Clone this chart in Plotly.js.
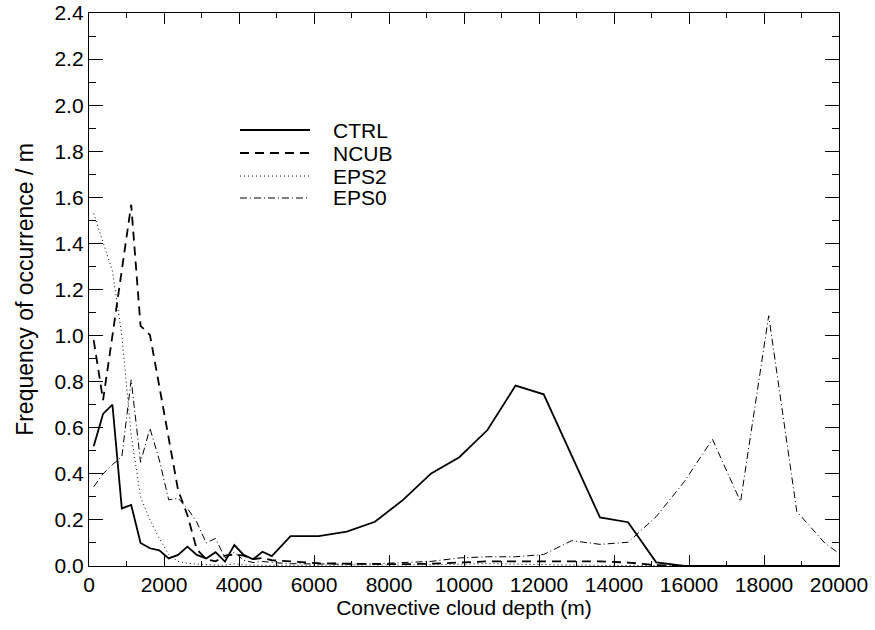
<!DOCTYPE html>
<html>
<head>
<meta charset="utf-8">
<script src="https://cdn.plot.ly/plotly-3.0.1.min.js"></script>
<style>html,body{margin:0;padding:0;background:#fff;}#chart{width:875px;height:630px;}</style>
</head>
<body>
<div id="chart"></div>
<script>
// Convective cloud depth bin centres (m)
const depth = [125,375,625,875,1125,1375,1625,1875,2125,2375,2625,2875,3125,3375,3625,3875,4125,4375,4625,4875,
  5375,6125,6875,7625,8375,9125,9875,10625,11375,12125,12875,13625,14375,15125,15875,16625,17375,18125,18875,19625,20375];

const ctrl = [0.52,0.66,0.70,0.25,0.265,0.10,0.077,0.068,0.033,0.048,0.084,0.048,0.033,0.06,0.019,0.091,0.048,0.029,0.062,0.043,
  0.13,0.13,0.149,0.192,0.287,0.402,0.472,0.59,0.783,0.745,0.478,0.211,0.19,0.016,0.0,0,0,0,0,0,0];

const ncub = [0.98,0.72,1.00,1.28,1.568,1.042,1.003,0.78,0.55,0.33,0.22,0.072,0.03,0.02,0.045,0.05,0.045,0.03,0.035,0.025,
  0.02,0.012,0.01,0.008,0.008,0.01,0.015,0.02,0.02,0.02,0.02,0.02,0.015,0.004,0,0,0,0,0,0,0];

const eps2 = [1.53,1.40,1.28,1.00,0.57,0.30,0.20,0.12,0.05,0.02,0.012,0.008,0.005,0.004,0.003,0.01,0.005,0.003,0.003,0.003,
  0.003,0.003,0.003,0.003,0.003,0.005,0.008,0.01,0.008,0.005,0.004,0.003,0.002,0.001,0,0,0,0,0,0,0];

const eps0 = [0.344,0.40,0.44,0.474,0.808,0.45,0.598,0.46,0.287,0.294,0.25,0.19,0.10,0.12,0.035,0.06,0.025,0.015,0.02,0.015,
  0.01,0.008,0.008,0.01,0.015,0.02,0.035,0.04,0.04,0.05,0.11,0.094,0.103,0.214,0.366,0.55,0.279,1.086,0.236,0.099,0.01];

const seriesNames = ['CTRL','NCUB','EPS2','EPS0'];
const xTitle = 'Convective cloud depth (m)';
const yTitle = 'Frequency of occurrence / m';

const FONT = 'Liberation Sans, Arial, Helvetica, sans-serif';
const FS = 21;

const styles = [
  {width: 1.8, dash: 'solid'},
  {width: 1.8, dash: '9px,6px'},
  {width: 1.0, dash: '1px,3px'},
  {width: 1.0, dash: '7px,3px,1px,3px'}
];
const values = [ctrl, ncub, eps2, eps0];

const traces = values.map((v, i) => ({
  x: depth, y: v, type: 'scatter', mode: 'lines', name: seriesNames[i],
  line: {color: '#000', width: styles[i].width, dash: styles[i].dash, shape: 'linear'},
  hoverinfo: 'skip', showlegend: false
}));

// Hand-placed legend (paper coordinates)
const legendRowY = [0.7884, 0.7468, 0.7052, 0.6655];
const legendLineX = [0.2013, 0.2947];
const legendTextX = 0.3233;
const shapes = seriesNames.map((n, i) => ({
  type: 'line', xref: 'paper', yref: 'paper',
  x0: legendLineX[0], x1: legendLineX[1], y0: legendRowY[i], y1: legendRowY[i],
  line: {color: '#000', width: styles[i].width, dash: styles[i].dash}
}));
const annotations = seriesNames.map((n, i) => ({
  xref: 'paper', yref: 'paper', x: legendTextX, y: legendRowY[i],
  xanchor: 'left', yanchor: 'middle', showarrow: false, text: n,
  font: {family: FONT, size: FS, color: '#000'}
}));

const axisCommon = {
  showline: true, linecolor: '#000', linewidth: 1.2, mirror: 'ticks',
  showgrid: false, zeroline: false, ticks: 'inside', tickcolor: '#000', tickwidth: 1,
  tickfont: {family: FONT, size: FS, color: '#000'}
};

const layout = {
  width: 875, height: 630,
  margin: {l: 89, r: 36, t: 13, b: 64, pad: 0},
  paper_bgcolor: '#fff', plot_bgcolor: '#fff',
  font: {family: FONT, size: FS, color: '#000'},
  showlegend: false,
  shapes: shapes,
  annotations: annotations,
  xaxis: Object.assign({}, axisCommon, {
    range: [0, 20000], dtick: 2000, tick0: 0, ticklen: 11, tickformat: 'd',
    minor: {dtick: 1000, ticklen: 5, ticks: 'inside', tickcolor: '#000', showgrid: false},
    title: {text: xTitle, font: {family: FONT, size: FS, color: '#000'}, standoff: 4}
  }),
  yaxis: Object.assign({}, axisCommon, {
    range: [0, 2.4], dtick: 0.2, tick0: 0, ticklen: 14, tickformat: '.1f',
    minor: {dtick: 0.1, ticklen: 7, ticks: 'inside', tickcolor: '#000', showgrid: false},
    title: {text: yTitle, font: {family: FONT, size: 23, color: '#000'}, standoff: 14}
  })
};

Plotly.newPlot('chart', traces, layout, {staticPlot: true, displayModeBar: false});
</script>
</body>
</html>
